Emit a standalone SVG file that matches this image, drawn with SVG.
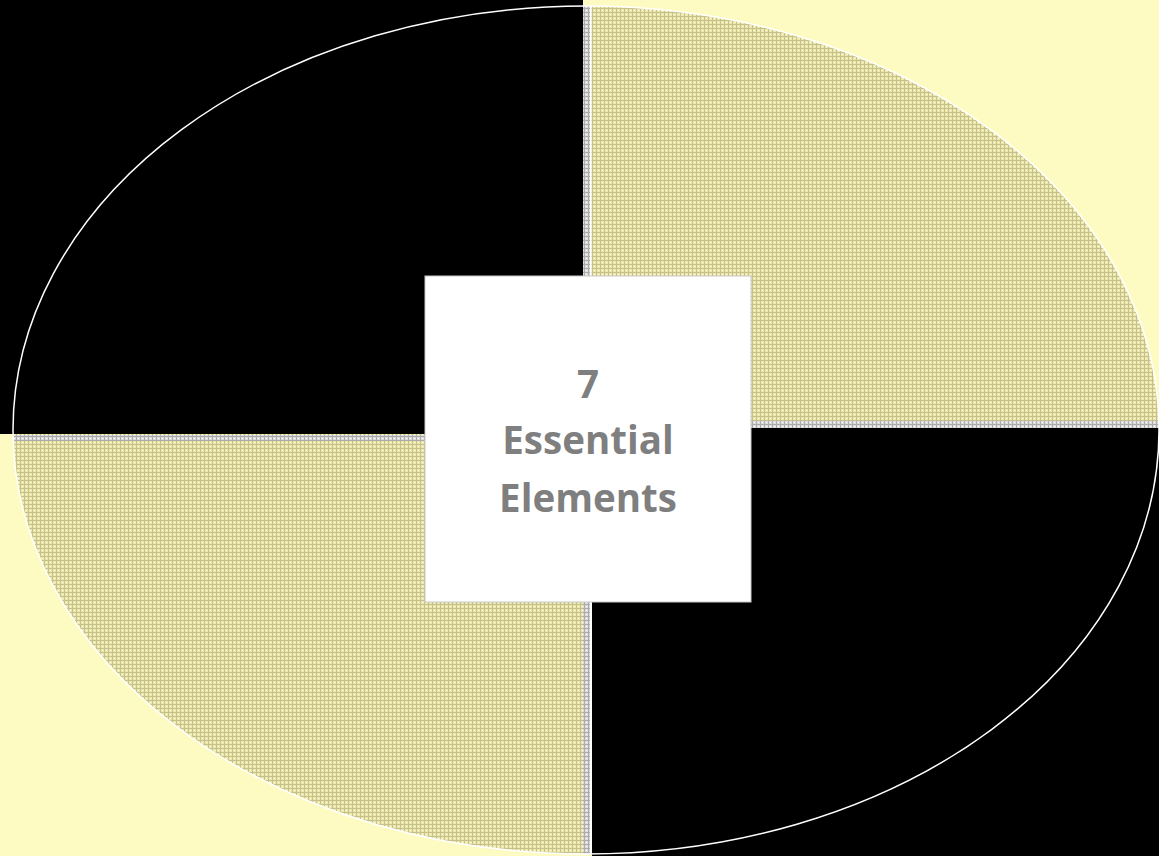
<svg xmlns="http://www.w3.org/2000/svg" width="1159" height="856" viewBox="0 0 1159 856">
  <style>
    .black { fill: #000000; }
    .label { font-family: "Open Sans", "Liberation Sans", sans-serif; font-weight: bold; font-size: 38.5px; fill: #7f7f7f; text-anchor: middle; }
  </style>
  <defs>
    <pattern id="checks" width="4" height="4" patternUnits="userSpaceOnUse">
      <rect width="4" height="4" fill="#ece7ad"/>
      <rect x="0" y="0" width="4" height="1" fill="#c6c18a"/>
      <rect x="0" y="0" width="1" height="4" fill="#c6c18a"/>
      <rect x="2" y="2" width="1" height="1" fill="#fffcd6"/>
    </pattern>
    <pattern id="grayChecks" width="4" height="4" patternUnits="userSpaceOnUse">
      <rect width="4" height="4" fill="#dcdcdc"/>
      <rect x="0" y="0" width="4" height="1" fill="#ababab"/>
      <rect x="0" y="0" width="1" height="4" fill="#ababab"/>
      <rect x="2" y="2" width="1" height="1" fill="#ffffff"/>
    </pattern>
    <clipPath id="ellClip">
      <ellipse cx="586" cy="430" rx="573" ry="424"/>
    </clipPath>
  </defs>

  <rect id="background" x="0" y="0" width="1159" height="856" fill="#fefbc2"/>

  <g id="quadrant-top-left">
    <rect class="black" x="0" y="0" width="583" height="434"/>
  </g>

  <g id="quadrant-top-right" clip-path="url(#ellClip)">
    <rect x="583" y="0" width="576" height="428" fill="url(#checks)"/>
    <rect x="583" y="0" width="7" height="428" fill="url(#grayChecks)"/>
    <rect x="583" y="421" width="576" height="7" fill="url(#grayChecks)"/>
    <rect x="590" y="0" width="1.5" height="421" fill="#ffffff"/>
  </g>

  <g id="quadrant-bottom-left" clip-path="url(#ellClip)">
    <rect x="0" y="434" width="592" height="422" fill="url(#checks)"/>
    <rect x="0" y="435" width="590" height="6" fill="url(#grayChecks)"/>
    <rect x="583" y="435" width="7" height="421" fill="url(#grayChecks)"/>
    <rect x="590" y="435" width="2" height="421" fill="#ffffff"/>
  </g>

  <g id="quadrant-bottom-right">
    <rect class="black" x="592" y="428" width="567" height="428"/>
  </g>

  <g id="connectors">
    <ellipse cx="586" cy="430" rx="573" ry="424" fill="none" stroke="#ffffff" stroke-width="1.5"/>
  </g>

  <g id="center-node">
    <rect x="425" y="276" width="326" height="326" fill="#ffffff" stroke="#c8c8c8" stroke-width="1"/>
    <text class="label" x="588" y="398">7</text>
    <text class="label" x="588" y="454">Essential</text>
    <text class="label" x="588" y="512">Elements</text>
  </g>
</svg>
